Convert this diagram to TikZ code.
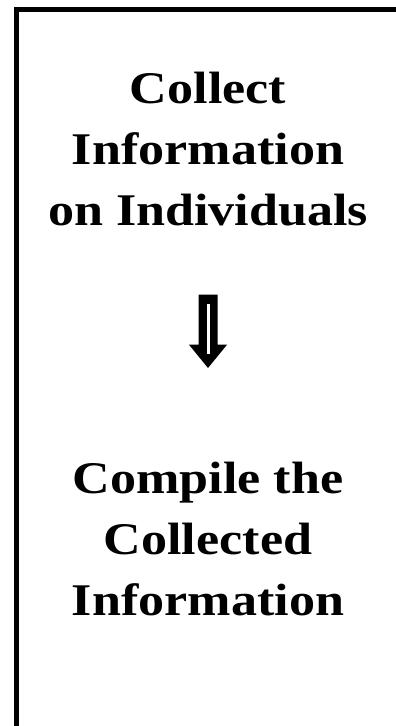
\documentclass[tikz,border=0pt]{standalone}
\usepackage{fontspec}
\setmainfont{Liberation Serif}[FakeStretch=1.15]
\begin{document}
\begin{tikzpicture}[x=1pt,y=1pt,
  blocktext/.style={align=center,font=\fontsize{45.3}{61}\selectfont\bfseries,inner sep=0pt,anchor=base},
  framestyle/.style={line width=5pt,line join=miter,draw=black}]
\useasboundingbox (0,0) rectangle (396,-726);
% frame (only top and left edges visible)
\draw[framestyle] (16,-740) -- (16,-9) -- (410,-9);
% top text (anchor base = baseline of the last line)
\node[blocktext] (collect) at (208,-225) {Collect\\Information\\on Individuals};
% bottom text
\node[blocktext] (compile) at (208,-615) {Compile the\\Collected\\Information};
% arrow
\fill[black] (198.5,-294.7) -- (217.5,-294.7) -- (217.5,-344.7) -- (227,-344.7)
  -- (208,-368) -- (189,-344.7) -- (198.5,-344.7) -- cycle;
\fill[white] (206.5,-304) rectangle (209.5,-354);
\end{tikzpicture}
\end{document}
